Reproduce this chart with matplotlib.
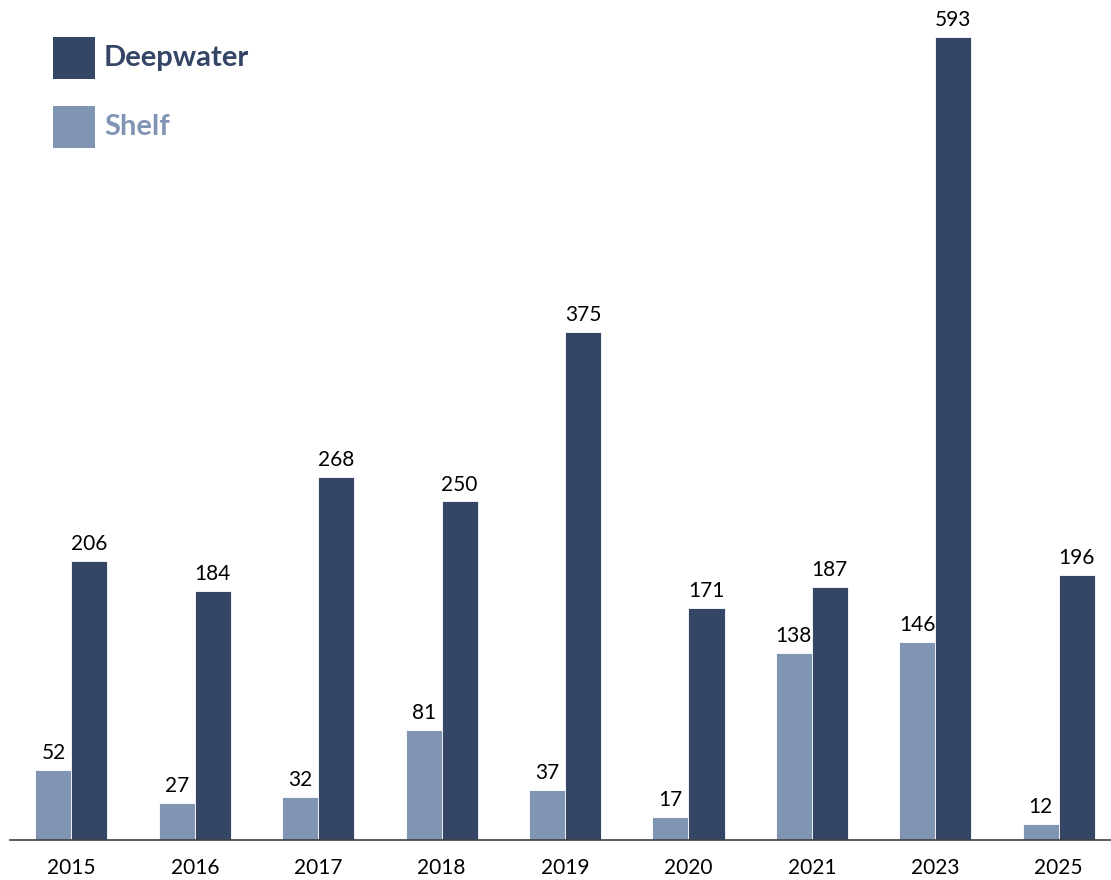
import matplotlib
matplotlib.use("Agg")
import matplotlib.pyplot as plt
from matplotlib.patches import Rectangle
import numpy as np

plt.rcParams["font.family"] = ["Lato", "DejaVu Sans"]

years = ["2015", "2016", "2017", "2018", "2019", "2020", "2021", "2023", "2025"]
shelf = [52, 27, 32, 81, 37, 17, 138, 146, 12]
deepwater = [206, 184, 268, 250, 375, 171, 187, 593, 196]

deep_color = "#344565"
shelf_color = "#8094b3"

W, H = 1111, 880
fig = plt.figure(figsize=(W / 100, H / 100), dpi=100)
ax = fig.add_axes([10 / W, 40 / H, 1 - 10 / W, 840 / H])

x = np.arange(len(years))
bw = 0.292
b1 = ax.bar(x - bw / 2, shelf, width=bw, color=shelf_color, edgecolor="white", linewidth=0.6)
b2 = ax.bar(x + bw / 2, deepwater, width=bw, color=deep_color, edgecolor="white", linewidth=0.6)

for bars, vals in ((b1, shelf), (b2, deepwater)):
    for rect, v in zip(bars, vals):
        ax.annotate(str(v), (rect.get_x() + rect.get_width() / 2, v),
                    xytext=(0, 5), textcoords="offset points",
                    ha="center", va="bottom", fontsize=15, color="black")

ax.set_xlim(-0.498, 8.424)
ax.set_ylim(0, 620.3)
ax.set_xticks(x)
ax.set_xticklabels(years, fontsize=15)
ax.tick_params(axis="x", length=0, pad=13)
ax.set_yticks([])
for s in ("top", "right", "left"):
    ax.spines[s].set_visible(False)
ax.spines["bottom"].set_color("#404040")
ax.spines["bottom"].set_linewidth(1.2)

# legend drawn by hand
for i, (name, col) in enumerate((("Deepwater", deep_color), ("Shelf", shelf_color))):
    top = 37 + i * 69
    fig.add_artist(Rectangle((53 / W, 1 - (top + 42) / H), 42 / W, 42 / H,
                             transform=fig.transFigure, color=col, linewidth=0))
    fig.text(104 / W, 1 - (top + 21) / H, name, fontsize=21, fontweight="bold",
             color=col, va="center", ha="left")

fig.savefig("out.png", dpi=100)
